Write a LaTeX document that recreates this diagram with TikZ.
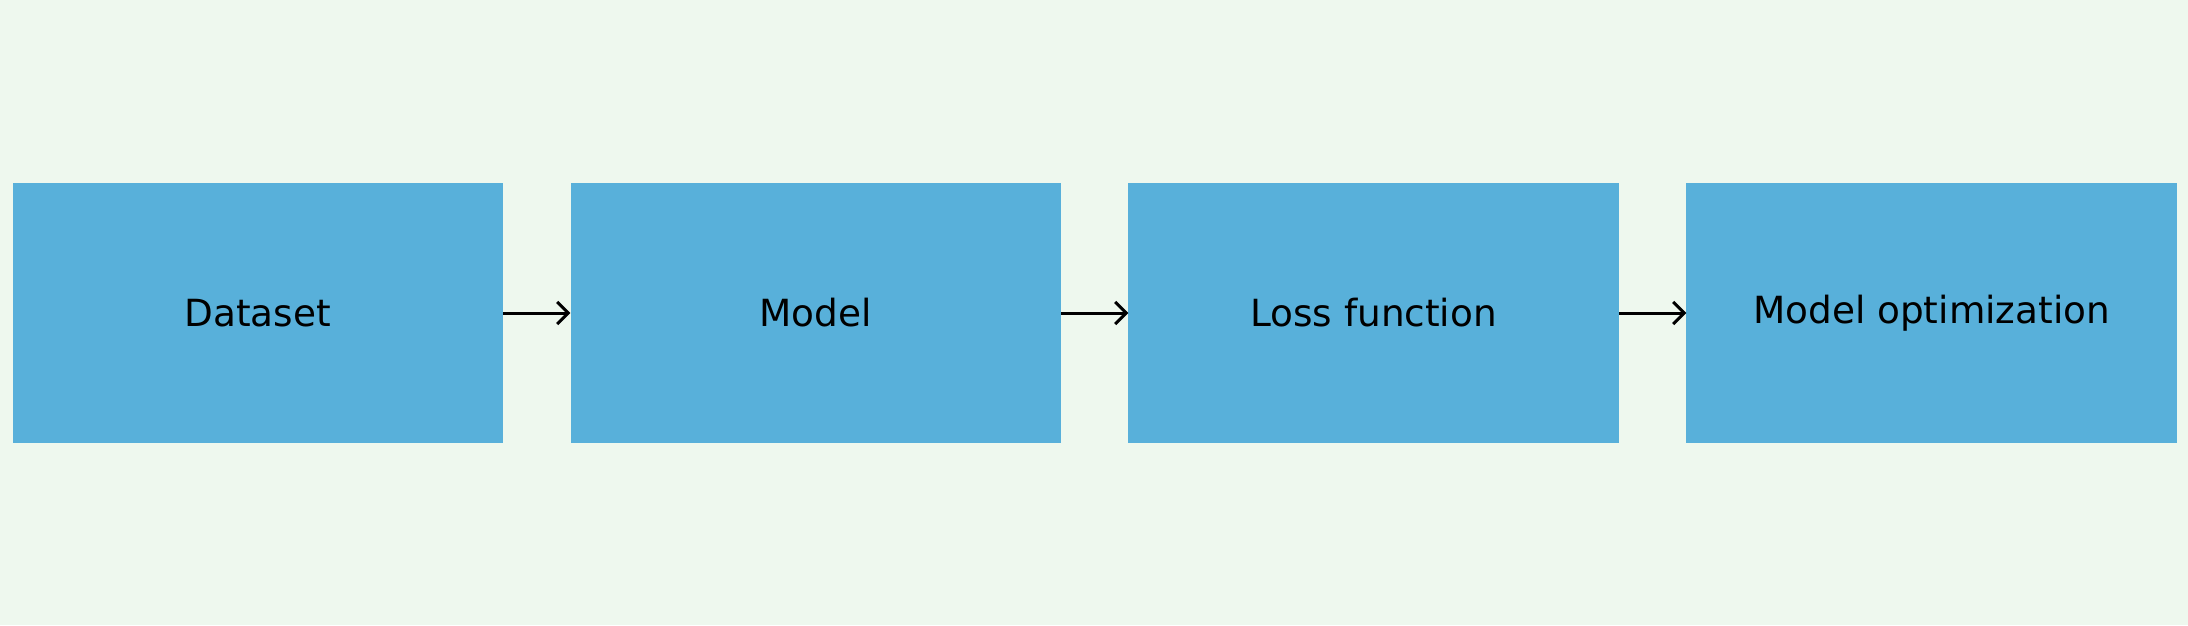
\documentclass[tikz,border=0pt]{standalone}
\usepackage{fontspec}
\setmainfont{DejaVu Sans}
\usetikzlibrary{arrows.meta}
\definecolor{bgc}{RGB}{238,248,238}
\definecolor{boxc}{RGB}{88,176,218}
\tikzset{
  stagebox/.style={fill=boxc, draw=none, minimum width=490.3pt, minimum height=260pt, inner sep=0pt, font=\fontsize{37.4}{44}\selectfont, text=black},
  flowarrow/.style={draw=black, line width=3pt, -{Straight Barb[length=11pt, width=22pt, line width=3pt]}, shorten >=0pt}
}
\begin{document}
\begin{tikzpicture}[x=1pt,y=1pt]
\fill[bgc] (0,0) rectangle (2188,625);
\useasboundingbox (0,0) rectangle (2188,625);
\node[stagebox] (a) at (257.8,312) {Dataset};
\node[stagebox] (b) at (815.7,312) {Model};
\node[stagebox] (c) at (1373.6,312) {Loss function};
\node[stagebox] (d) at (1931.6,312) {Model optimization};
\draw[flowarrow] (a.east) -- (b.west);
\draw[flowarrow] (b.east) -- (c.west);
\draw[flowarrow] (c.east) -- (d.west);
\end{tikzpicture}
\end{document}
